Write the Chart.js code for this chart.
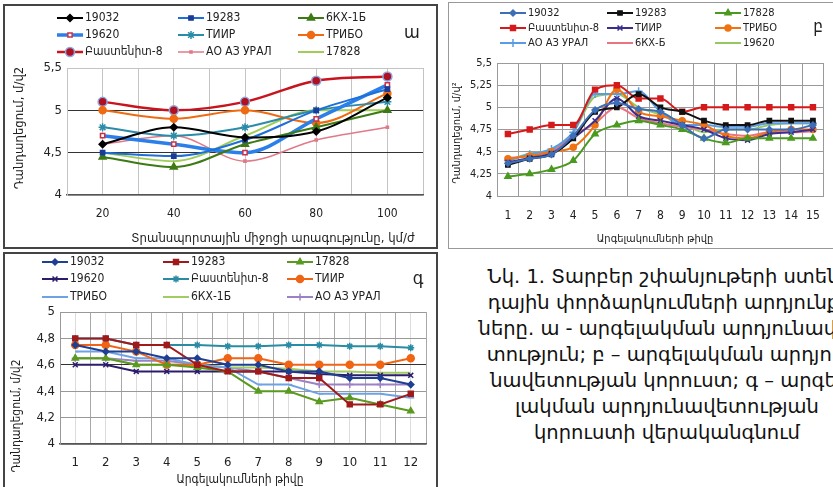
<!DOCTYPE html>
<html>
<head>
<meta charset="utf-8">
<script src="https://cdn.jsdelivr.net/npm/chart.js@4.4.1/dist/chart.umd.min.js"></script>
<style>
  html, body { margin: 0; padding: 0; background: #fff; }
  body { width: 833px; height: 487px; overflow: hidden; position: relative; }
  .panel { position: absolute; box-sizing: border-box; }
  #pa { left: 3px; top: 4px; width: 435px; height: 245px; border: 2px solid #444; }
  #pc { left: 3px; top: 252px; width: 435px; height: 240px; border: 2px solid #444; }
  #pb { left: 448px; top: 2px; width: 390px; height: 247px; border: 1px solid #999; }
  .box { position: absolute; }
  #caption { position: absolute; left: 457px; top: 264px; width: 420px; text-align: center;
    font-family: 'DejaVu Sans', sans-serif; font-size: 19.5px; line-height: 26px; color: #111; white-space: nowrap; }
</style>
</head>
<body>
<div class="panel" id="pa"></div>
<div class="panel" id="pb"></div>
<div class="panel" id="pc"></div>
<div class="box" style="left:3px;top:4px;width:434px;height:244px"><canvas id="chartA"></canvas></div>
<div class="box" style="left:448px;top:3px;width:385px;height:245px"><canvas id="chartB"></canvas></div>
<div class="box" style="left:3px;top:252px;width:434px;height:235px"><canvas id="chartC"></canvas></div>
<div id="caption">
  Նկ. 1. Տարբեր շփանյութերի ստեն-<br>
  դային փորձարկումների արդյունք-<br>
  ները. ա - արգելակման արդյունավե-<br>
  տություն; բ – արգելակման արդյու-<br>
  նավետության կորուստ; գ – արգե-<br>
  լակման արդյունավետության<br>
  կորուստի վերականգնում
</div>
<script>
// ---- Chart ա : deceleration vs speed ----
const speedsA = [20, 40, 60, 80, 100];
const namesA = ['19032', '19283', '6КХ-1Б', '19620', 'ТИИР', 'ТРИБО', 'Բաստենիտ-8', 'АО АЗ УРАЛ', '17828'];
const a19032 = [4.6, 4.8, 4.68, 4.75, 5.15];
const a19283 = [4.5, 4.46, 4.65, 5.0, 5.25];
const a6kx = [4.45, 4.33, 4.6, 4.8, 5.0];
const a19620 = [4.7, 4.6, 4.5, 4.9, 5.3];
const aTiir = [4.8, 4.7, 4.8, 5.0, 5.1];
const aTribo = [5.0, 4.9, 5.0, 4.85, 5.2];
const aBast = [5.1, 5.0, 5.1, 5.35, 5.4];
const aUral = [4.6, 4.7, 4.4, 4.65, 4.8];
const a17828 = [4.5, 4.4, 4.7, 5.0, 5.0];
const yTicksA = [4, 4.5, 5, 5.5];

// ---- Chart բ : deceleration vs number of brakings ----
const brakesB = ['1','2','3','4','5','6','7','8','9','10','11','12','13','14','15'];
const namesB = ['19032', '19283', '17828', 'Բաստենիտ-8', 'ТИИР', 'ТРИБО', 'АО АЗ УРАЛ', '6КХ-Б', '19620'];
const b19032 = [4.37, 4.42, 4.47, 4.68, 4.97, 5.05, 4.98, 4.95, 4.8, 4.65, 4.75, 4.75, 4.75, 4.75, 4.8];
const b19283 = [4.35, 4.42, 4.47, 4.65, 4.95, 5.0, 5.15, 5.0, 4.95, 4.85, 4.8, 4.8, 4.85, 4.85, 4.85];
const b17828 = [4.22, 4.25, 4.3, 4.4, 4.7, 4.8, 4.85, 4.8, 4.75, 4.65, 4.6, 4.65, 4.65, 4.65, 4.65];
const bBast = [4.7, 4.75, 4.8, 4.8, 5.2, 5.25, 5.1, 5.1, 4.95, 5.0, 5.0, 5.0, 5.0, 5.0, 5.0];
const bTiir = [4.38, 4.43, 4.48, 4.65, 4.85, 5.1, 4.9, 4.85, 4.8, 4.75, 4.65, 4.63, 4.7, 4.72, 4.75];
const bTribo = [4.42, 4.45, 4.5, 4.55, 4.8, 5.2, 4.95, 4.9, 4.85, 4.8, 4.68, 4.65, 4.72, 4.75, 4.75];
const bUral = [4.4, 4.47, 4.53, 4.72, 5.15, 5.15, 5.18, 4.95, 4.8, 4.8, 4.78, 4.78, 4.82, 4.82, 4.82];
const b6kx = [4.43, 4.45, 4.5, 4.68, 4.82, 5.0, 4.88, 4.82, 4.78, 4.75, 4.7, 4.68, 4.72, 4.72, 4.73];
const b19620 = [4.4, 4.48, 4.52, 4.72, 5.12, 5.15, 5.0, 4.92, 4.82, 4.72, 4.75, 4.75, 4.8, 4.82, 4.82];

// ---- Chart գ : recovery ----
const brakesC = [1, 2, 3, 4, 5, 6, 7, 8, 9, 10, 11, 12];
const namesC = ['19032', '19283', '17828', '19620', 'Բաստենիտ-8', 'ТИИР', 'ТРИБО', '6КХ-1Б', 'АО АЗ УРАЛ'];
const c19032 = [4.75, 4.7, 4.7, 4.65, 4.65, 4.6, 4.6, 4.55, 4.55, 4.5, 4.5, 4.45];
const c19283 = [4.8, 4.8, 4.75, 4.75, 4.6, 4.55, 4.55, 4.5, 4.5, 4.3, 4.3, 4.38];
const c17828 = [4.65, 4.65, 4.6, 4.6, 4.58, 4.55, 4.4, 4.4, 4.32, 4.35, 4.3, 4.25];
const c19620 = [4.6, 4.6, 4.55, 4.55, 4.55, 4.55, 4.55, 4.55, 4.53, 4.52, 4.52, 4.52];
const cBast = [4.8, 4.8, 4.75, 4.75, 4.75, 4.74, 4.74, 4.75, 4.75, 4.74, 4.74, 4.73];
const cTiir = [4.75, 4.75, 4.7, 4.6, 4.6, 4.65, 4.65, 4.6, 4.6, 4.6, 4.6, 4.65];
const cTribo = [4.7, 4.7, 4.65, 4.65, 4.6, 4.58, 4.45, 4.45, 4.38, 4.38, 4.38, 4.35];
const c6kx = [4.65, 4.65, 4.6, 4.6, 4.6, 4.58, 4.58, 4.57, 4.55, 4.55, 4.54, 4.54];
const cUral = [4.65, 4.65, 4.63, 4.63, 4.6, 4.58, 4.55, 4.5, 4.45, 4.45, 4.45, 4.45];

const NARROW = "'Liberation Sans Narrow', 'DejaVu Sans Condensed', sans-serif";
const yTitle = 'Դանդաղեցում, մ/վ2';

function comma(v) {
  return String(Math.round(v * 100) / 100).replace('.', ',');
}

function xy(xs, ys) {
  return ys.map((y, i) => ({ x: xs[i], y: y }));
}

// one series: colour, line width, marker style/size, marker fill and border, smoothing
function ds(label, data, color, width, style, radius, fill, pborder, tension) {
  return {
    label: label, data: data,
    borderColor: color, backgroundColor: color, borderWidth: width,
    pointStyle: style || 'circle', pointRadius: radius, pointHoverRadius: radius,
    pointBackgroundColor: fill || color, pointBorderColor: pborder || color, pointBorderWidth: 1.5,
    tension: tension, cubicInterpolationMode: tension ? 'monotone' : 'default'
  };
}

// legend in 3 columns + extra texts drawn on canvas
const customText = {
  id: 'customText',
  afterDraw(chart, args, opts) {
    const ctx = chart.ctx;
    ctx.save();
    chart.data.datasets.forEach((d, i) => {
      const x = opts.cols[i % 3], y = opts.rows[Math.floor(i / 3)];
      ctx.strokeStyle = d.borderColor;
      ctx.lineWidth = d.borderWidth;
      ctx.beginPath(); ctx.moveTo(x, y); ctx.lineTo(x + opts.len, y); ctx.stroke();
      if (d.pointRadius > 0) {
        ctx.fillStyle = d.pointBackgroundColor;
        ctx.strokeStyle = d.pointBorderColor;
        ctx.lineWidth = d.pointBorderWidth;
        Chart.helpers.drawPoint(ctx, { pointStyle: d.pointStyle, radius: d.pointRadius, rotation: 0, borderWidth: d.pointBorderWidth }, x + opts.len / 2, y);
      }
      ctx.fillStyle = '#222';
      ctx.font = opts.legendFont;
      ctx.textAlign = 'left'; ctx.textBaseline = 'middle';
      ctx.fillText(d.label, x + opts.len + 2, y);
    });
    opts.texts.forEach(t => {
      ctx.save();
      ctx.translate(t.x, t.y);
      if (t.rot) ctx.rotate(-Math.PI / 2);
      ctx.font = t.font; ctx.fillStyle = '#222';
      ctx.textAlign = 'center'; ctx.textBaseline = 'middle';
      ctx.fillText(t.text, 0, 0);
      ctx.restore();
    });
    ctx.restore();
  }
};

function fixed(w, h) {
  return function (scale) { if (w) scale.width = w; if (h) scale.height = h; };
}

// ----- chart ա -----
new Chart(document.getElementById('chartA'), {
  type: 'line',
  data: {
    datasets: [
      ds(namesA[0], xy(speedsA, a19032), '#000000', 2, 'rectRot', 3.5, null, null, 0.4),
      ds(namesA[1], xy(speedsA, a19283), '#1f6fd8', 2, 'rect', 3, '#1a3c99', '#1a3c99', 0.4),
      ds(namesA[2], xy(speedsA, a6kx), '#3d7a14', 2, 'triangle', 4, null, null, 0.4),
      ds(namesA[3], xy(speedsA, a19620), '#2a80e8', 3.5, 'rect', 3, '#ffffff', '#c8304a', 0.4),
      ds(namesA[4], xy(speedsA, aTiir), '#2a8ca8', 2, 'star', 4, null, null, 0.4),
      ds(namesA[5], xy(speedsA, aTribo), '#f06a12', 2, 'circle', 3.5, null, null, 0.4),
      ds(namesA[6], xy(speedsA, aBast), '#c8141e', 2.5, 'circle', 4.5, '#b01020', '#8aa8e0', 0.4),
      ds(namesA[7], xy(speedsA, aUral), '#e07a88', 1.5, 'rect', 1.5, null, null, 0.4),
      ds(namesA[8], xy(speedsA, a17828), '#a0cc58', 2, 'circle', 0, null, null, 0.4)
    ]
  },
  options: {
    responsive: true, maintainAspectRatio: false, animation: false,
    layout: { padding: { top: 64, right: 14, left: 0, bottom: 0 } },
    plugins: {
      legend: { display: false }, tooltip: { enabled: false },
      customText: {
        rows: [14, 31, 48], cols: [54, 175, 295], len: 26,
        legendFont: '12px ' + NARROW,
        texts: [
          { text: 'ա', x: 409, y: 29, font: '18px ' + NARROW },
          { text: 'Տրանսպորտային միջոցի արագությունը, կմ/ժ', x: 270, y: 235, font: '13px ' + NARROW },
          { text: yTitle, x: 17, y: 124, rot: true, font: '13px ' + NARROW }
        ]
      }
    },
    scales: {
      x: {
        type: 'linear', min: 10, max: 110,
        afterFit: fixed(0, 53),
        ticks: { stepSize: 10, autoSkip: false, maxRotation: 0, padding: 12, color: '#222', font: { family: NARROW, size: 12 },
          callback: v => (v % 20 === 0 && v >= 20 && v <= 100) ? String(v) : '' },
        grid: { color: '#c4c4c4', drawTicks: false },
        border: { color: '#555', width: 1.5 }
      },
      y: {
        min: 4, max: 5.5,
        afterFit: fixed(64, 0),
        ticks: { stepSize: 0.5, padding: 5, color: '#222', font: { family: NARROW, size: 13 }, callback: v => comma(v) },
        afterBuildTicks: s => { s.ticks = yTicksA.map(v => ({ value: v })); },
        grid: { drawTicks: false, color: c => (c.tick.value === 5 || c.tick.value === 4.5) ? '#333' : '#c4c4c4' },
        border: { color: '#c4c4c4' }
      }
    }
  },
  plugins: [customText]
});

// ----- chart բ -----
new Chart(document.getElementById('chartB'), {
  type: 'line',
  data: {
    labels: brakesB,
    datasets: [
      ds(namesB[0], b19032, '#3d6fb8', 2, 'rectRot', 3, null, null, 0.3),
      ds(namesB[1], b19283, '#111111', 2, 'rect', 3, null, null, 0.3),
      ds(namesB[2], b17828, '#4a9a20', 2, 'triangle', 3.5, null, null, 0.3),
      ds(namesB[3], bBast, '#d41a1a', 2, 'rect', 3.5, null, null, 0.3),
      ds(namesB[4], bTiir, '#3a2f8c', 2, 'crossRot', 3.5, null, null, 0.3),
      ds(namesB[5], bTribo, '#f07312', 2, 'circle', 3, null, null, 0.3),
      ds(namesB[6], bUral, '#5a9ce4', 2, 'cross', 4, null, null, 0.3),
      ds(namesB[7], b6kx, '#ea7480', 2, 'circle', 0, null, null, 0.3),
      ds(namesB[8], b19620, '#94c862', 2, 'circle', 0, null, null, 0.3)
    ]
  },
  options: {
    responsive: true, maintainAspectRatio: false, animation: false,
    layout: { padding: { top: 60, right: 5, left: 0, bottom: 0 } },
    plugins: {
      legend: { display: false }, tooltip: { enabled: false },
      customText: {
        rows: [10, 25, 40], cols: [52, 159, 267], len: 26,
        legendFont: '11px ' + NARROW,
        texts: [
          { text: 'բ', x: 370, y: 25, font: '17px ' + NARROW },
          { text: 'Արգելակումների թիվը', x: 207, y: 236, font: '11px ' + NARROW },
          { text: 'Դանդաղեցում, մ/վ²', x: 9, y: 130, rot: true, font: '11px ' + NARROW }
        ]
      }
    },
    scales: {
      x: {
        offset: true,
        afterFit: fixed(0, 52),
        ticks: { padding: 13, autoSkip: false, maxRotation: 0, color: '#222', font: { family: NARROW, size: 12 } },
        grid: { offset: true, color: '#9a9a9a', drawTicks: false },
        border: { color: '#9a9a9a' }
      },
      y: {
        min: 4, max: 5.5,
        afterFit: fixed(49, 0),
        ticks: { stepSize: 0.25, padding: 5, color: '#222', font: { family: NARROW, size: 11 }, callback: v => comma(v) },
        grid: { color: '#9a9a9a', drawTicks: false },
        border: { color: '#9a9a9a' }
      }
    }
  },
  plugins: [customText]
});

// ----- chart գ -----
new Chart(document.getElementById('chartC'), {
  type: 'line',
  data: {
    datasets: [
      ds(namesC[0], xy(brakesC, c19032), '#1f3f92', 2, 'rectRot', 3, null, null, 0),
      ds(namesC[1], xy(brakesC, c19283), '#a01a1a', 2, 'rect', 3.5, null, null, 0),
      ds(namesC[2], xy(brakesC, c17828), '#5a9a20', 2, 'triangle', 3.5, null, null, 0),
      ds(namesC[3], xy(brakesC, c19620), '#2c1c6c', 2, 'crossRot', 3.5, null, null, 0),
      ds(namesC[4], xy(brakesC, cBast), '#2a8ca4', 2, 'star', 3.5, null, null, 0),
      ds(namesC[5], xy(brakesC, cTiir), '#f06414', 2, 'circle', 3.5, null, null, 0),
      ds(namesC[6], xy(brakesC, cTribo), '#6ea2e4', 2, 'dash', 3.5, null, null, 0),
      ds(namesC[7], xy(brakesC, c6kx), '#a0cc62', 2, 'circle', 0, null, null, 0),
      ds(namesC[8], xy(brakesC, cUral), '#9c82c4', 2, 'cross', 3.5, null, null, 0)
    ]
  },
  options: {
    responsive: true, maintainAspectRatio: false, animation: false,
    layout: { padding: { top: 60, right: 9, left: 0, bottom: 0 } },
    plugins: {
      legend: { display: false }, tooltip: { enabled: false },
      customText: {
        rows: [10, 27, 45], cols: [39, 160, 284], len: 26,
        legendFont: '12px ' + NARROW,
        texts: [
          { text: 'գ', x: 415, y: 27, font: '18px ' + NARROW },
          { text: 'Արգելակումների թիվը', x: 237, y: 228, font: '12px ' + NARROW },
          { text: yTitle, x: 14, y: 164, rot: true, font: '12px ' + NARROW }
        ]
      }
    },
    scales: {
      x: {
        type: 'linear', min: 0.5, max: 12.5,
        afterFit: fixed(0, 43),
        ticks: { stepSize: 0.5, autoSkip: false, maxRotation: 0, padding: 11, color: '#222', font: { family: NARROW, size: 13 },
          callback: v => Number.isInteger(v) ? String(v) : '' },
        grid: { color: c => Number.isInteger(c.tick.value) ? '#dcdcdc' : '#a8a8a8', drawTicks: false },
        border: { color: '#555', width: 1.5 }
      },
      y: {
        min: 4, max: 5,
        afterFit: fixed(57, 0),
        ticks: { stepSize: 0.2, padding: 5, color: '#222', font: { family: NARROW, size: 13 }, callback: v => comma(v) },
        grid: { drawTicks: false, color: c => Math.abs(c.tick.value - 4.6) < 0.01 ? '#333' : '#999' },
        border: { color: '#999' }
      }
    }
  },
  plugins: [customText]
});
</script>
</body>
</html>
